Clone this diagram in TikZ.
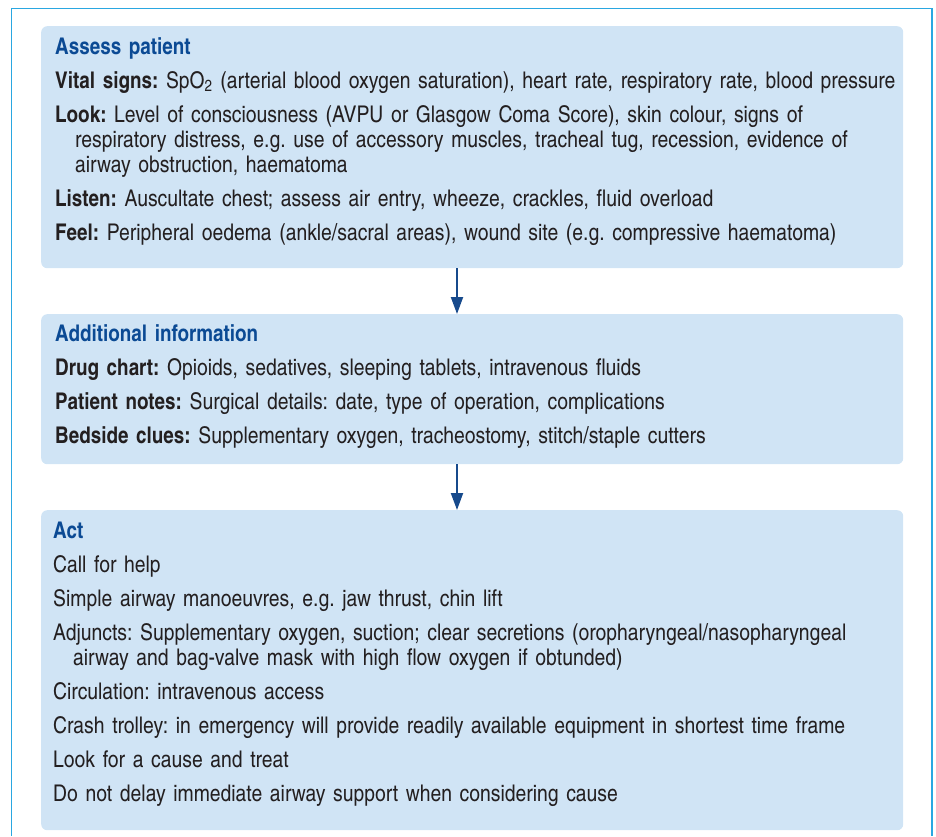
\documentclass[tikz,border=0pt]{standalone}
\usepackage{fontspec}
\setmainfont{texgyreheroscn}[Extension=.otf, UprightFont=*-regular, BoldFont=*-bold, ItalicFont=*-italic, BoldItalicFont=*-bolditalic, UprightFeatures={FakeStretch=1.025}]
\usetikzlibrary{positioning,arrows.meta}

\definecolor{framecyan}{HTML}{2AA7E1}
\definecolor{panelfill}{HTML}{D0E4F5}
\definecolor{headblue}{HTML}{0B4A94}
\definecolor{arrowblue}{HTML}{174A8C}
\definecolor{bodytext}{HTML}{231F20}

\newcommand{\heading}[1]{{\color{headblue}\textbf{#1}}}
\newcommand{\entry}[2]{\par\textbf{#1} #2}
\newcommand{\plain}[1]{\par #1}
\newcommand{\cont}{\\\hspace*{20pt}}

\tikzset{
  panel/.style={fill=panelfill, rounded corners=6pt, anchor=north west, inner sep=0pt},
  paneltext/.style={anchor=north west, inner sep=0pt, text width=845pt, align=left,
    text=bodytext, font=\fontsize{23}{25}\selectfont\frenchspacing\setlength{\parskip}{9pt}},
  flow/.style={draw=arrowblue, line width=2pt, -{Triangle[width=12pt,length=17pt]}}
}

\begin{document}
\begin{tikzpicture}[x=1pt,y=1pt]
\useasboundingbox (0,0) rectangle (936,-836);
% outer frame
\draw [framecyan, line width=1.5pt] (11.5,-836) -- (11.5,-8.5) -- (932,-8.5) -- (932,-836);
% panels
\node [panel, minimum width=862pt, minimum height=242pt] (assess) at (41,-26) {};
\node [panel, minimum width=862pt, minimum height=150pt] (addinfo) at (41,-314) {};
\node [panel, minimum width=862pt, minimum height=320pt] (act) at (41,-510) {};
% texts
\node [paneltext] (assesstext) at (55,-37) {%
\heading{Assess patient}
\entry{Vital signs:}{SpO\textsubscript{2} (arterial blood oxygen saturation), heart rate, respiratory rate, blood pressure}
\entry{Look:}{Level of consciousness (AVPU or Glasgow Coma Score), skin colour, signs of\cont
respiratory distress, e.g. use of accessory muscles, tracheal tug, recession, evidence of\cont
airway obstruction, haematoma}
\entry{Listen:}{Auscultate chest; assess air entry, wheeze, crackles, fluid overload}
\entry{Feel:}{Peripheral oedema (ankle/sacral areas), wound site (e.g. compressive haematoma)}};
\node [paneltext] (addinfotext) at (55,-324) {%
\heading{Additional information}
\entry{Drug chart:}{Opioids, sedatives, sleeping tablets, intravenous fluids}
\entry{Patient notes:}{Surgical details: date, type of operation, complications}
\entry{Bedside clues:}{Supplementary oxygen, tracheostomy, stitch/staple cutters}};
\node [paneltext] (acttext) at (53,-522) {%
\heading{Act}
\plain{Call for help}
\plain{Simple airway manoeuvres, e.g. jaw thrust, chin lift}
\plain{Adjuncts: Supplementary oxygen, suction; clear secretions (oropharyngeal/nasopharyngeal\cont
airway and bag-valve mask with high flow oxygen if obtunded)}
\plain{Circulation: intravenous access}
\plain{Crash trolley: in emergency will provide readily available equipment in shortest time frame}
\plain{Look for a cause and treat}
\plain{Do not delay immediate airway support when considering cause}};
% arrows
\draw [flow] (assess.south -| 457,0) -- (addinfo.north -| 457,0);
\draw [flow] (addinfo.south -| 457,0) -- (act.north -| 457,0);
\end{tikzpicture}
\end{document}
